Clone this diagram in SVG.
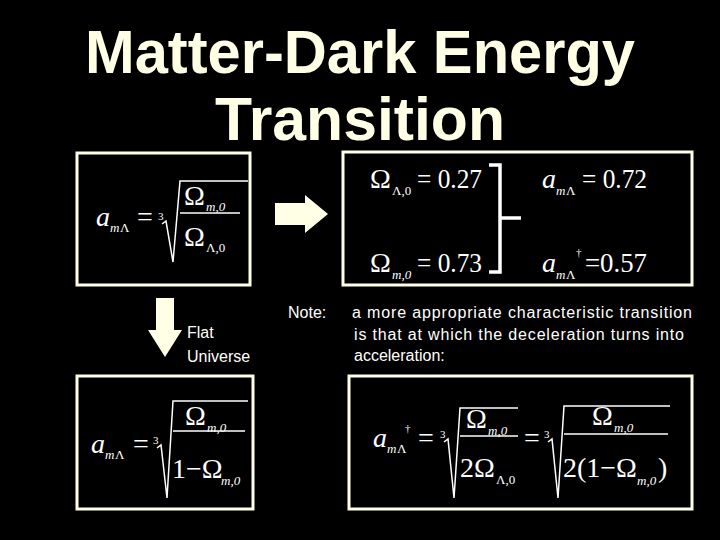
<svg xmlns="http://www.w3.org/2000/svg" width="720" height="540" viewBox="0 0 720 540">
<style>
.t{font-family:"Liberation Sans",Arial,sans-serif;font-weight:bold;font-size:62px;fill:#FFFFE6}
.s{font-family:"Liberation Sans",Arial,sans-serif;font-size:16px;fill:#fff}
.m{font-family:"Liberation Serif","Times New Roman",serif;font-size:28px;fill:#fff}
.i{font-style:italic}
.sb{font-size:13px}
.r{font-size:11px}
.box{fill:none;stroke:#FFFFE6;stroke-width:3}
.ln{stroke:#fff;stroke-width:1.5;fill:none}
</style>
<rect width="720" height="540" fill="#000"/>
<text class="t" x="85" y="73" textLength="550" lengthAdjust="spacingAndGlyphs">Matter-Dark Energy</text>
<text class="t" x="215" y="140" textLength="290" lengthAdjust="spacingAndGlyphs">Transition</text>
<g id="connectors">
<polygon points="275,203 305,203 305,195 328,214 305,233 305,225 275,225" fill="#FFFFE6"/>
<polygon points="156,298 174,298 174,330 182,330 165,357 148,330 156,330" fill="#FFFFE6"/>
</g>
<g id="box1">
<rect class="box" x="77" y="153" width="173" height="132"/>
<text class="m i" x="96" y="226">a</text><text class="m i sb" x="110" y="232">m</text><text class="m sb" x="120" y="232">Λ</text>
<text class="m" x="137" y="226">=</text>
<text class="m r" x="158" y="220">3</text>
<polyline class="ln" points="162,224 166,221 173,262 180,181 248,181"/>
<line class="ln" x1="180" y1="213" x2="240" y2="213"/>
<text class="m" x="184" y="205">Ω</text><text class="m i sb" x="206" y="211">m,0</text>
<text class="m" x="184" y="246">Ω</text><text class="m sb" x="206" y="252">Λ,0</text>
</g>
<g id="box2">
<rect class="box" x="343" y="152" width="349" height="133"/>
<text class="m" x="370" y="188">Ω</text><text class="m sb" x="392" y="195">Λ,0</text><text class="m" x="417" y="188" textLength="65" lengthAdjust="spacingAndGlyphs">= 0.27</text>
<text class="m" x="370" y="272">Ω</text><text class="m i sb" x="392" y="279">m,0</text><text class="m" x="417" y="272" textLength="65" lengthAdjust="spacingAndGlyphs">= 0.73</text>
<polyline points="489,165 500,165 500,272 489,272" fill="none" stroke="#fff" stroke-width="3.5"/>
<line x1="500" y1="218" x2="521" y2="218" stroke="#fff" stroke-width="3.5"/>
<text class="m i" x="542" y="188">a</text><text class="m i sb" x="556" y="195">m</text><text class="m sb" x="566" y="195">Λ</text><text class="m" x="582" y="188" textLength="65" lengthAdjust="spacingAndGlyphs">= 0.72</text>
<text class="m i" x="542" y="272">a</text><text class="m i sb" x="556" y="279">m</text><text class="m sb" x="566" y="279">Λ</text><text class="m r" x="576" y="256">†</text><text class="m" x="585" y="272" textLength="62" lengthAdjust="spacingAndGlyphs">=0.57</text>
</g>
<g id="notes">
<text class="s" x="288" y="318">Note:</text>
<text class="s" x="352" y="318" textLength="340">a more appropriate characteristic transition</text>
<text class="s" x="354" y="340" textLength="330">is that at which the deceleration turns into</text>
<text class="s" x="354" y="361">acceleration:</text>
<text class="s" x="187" y="338">Flat</text>
<text class="s" x="187" y="362">Universe</text>
</g>
<g id="box3">
<rect class="box" x="77" y="376" width="176" height="133"/>
<text class="m i" x="91" y="453">a</text><text class="m i sb" x="105" y="459">m</text><text class="m sb" x="115" y="459">Λ</text>
<text class="m" x="133" y="453">=</text>
<text class="m r" x="153" y="444">3</text>
<polyline class="ln" points="157,448 161,445 167,498 173,401 248,401"/>
<line class="ln" x1="173" y1="431" x2="245" y2="431"/>
<text class="m" x="185" y="425">Ω</text><text class="m i sb" x="207" y="432">m,0</text>
<text class="m" x="172" y="478">1−Ω</text><text class="m i sb" x="221" y="485">m,0</text>
</g>
<g id="box4">
<rect class="box" x="349" y="376" width="343" height="133"/>
<text class="m i" x="373" y="447">a</text><text class="m i sb" x="387" y="453">m</text><text class="m sb" x="397" y="453">Λ</text><text class="m r" x="405" y="432">†</text>
<text class="m" x="418" y="447">=</text>
<text class="m r" x="440" y="438">3</text>
<polyline class="ln" points="444,442 448,439 454,498 460,408 518,408"/>
<line class="ln" x1="460" y1="436" x2="518" y2="436"/>
<text class="m" x="466" y="428">Ω</text><text class="m i sb" x="488" y="435">m,0</text>
<text class="m" x="460" y="477">2Ω</text><text class="m sb" x="496" y="484">Λ,0</text>
<text class="m" x="524" y="447">=</text>
<text class="m r" x="544" y="438">3</text>
<polyline class="ln" points="548,442 552,439 558,498 564,406 670,406"/>
<line class="ln" x1="564" y1="434" x2="668" y2="434"/>
<text class="m" x="592" y="425">Ω</text><text class="m i sb" x="614" y="432">m,0</text>
<text class="m" x="563" y="477">2(1−Ω</text><text class="m i sb" x="637" y="485">m,0</text><text class="m" x="658" y="477">)</text>
</g>
</svg>
